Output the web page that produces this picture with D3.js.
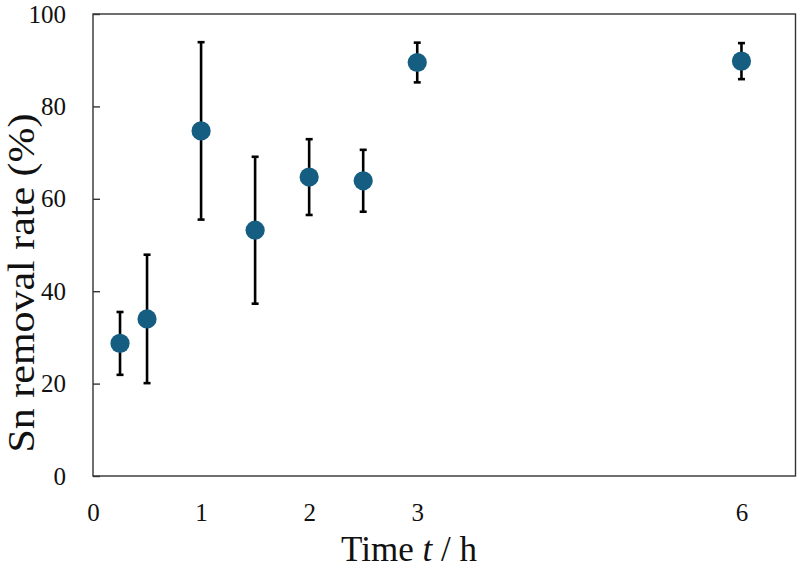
<!DOCTYPE html>
<html>
<head>
<meta charset="utf-8">
<script src="https://cdn.jsdelivr.net/npm/d3@7"></script>
<style>
  body { margin: 0; background: #fff; }
  svg text { font-family: "Liberation Serif", "DejaVu Serif", serif; fill: #111; }
</style>
</head>
<body>
<div id="chart"></div>
<script>
// data
const times = [0.25, 0.5, 1, 1.5, 2, 2.5, 3, 6];
const rates = [28.7, 34.0, 74.7, 53.2, 64.7, 63.9, 89.5, 89.8];
const errors = [6.8, 13.9, 19.2, 15.9, 8.2, 6.7, 4.3, 3.9];
const xTicks = [0, 1, 2, 3, 6];
const yTicks = [0, 20, 40, 60, 80, 100];

const width = 800, height = 571;
const margin = {top: 14, right: 4.5, bottom: 95, left: 93};
const serif = "Liberation Serif";

const svg = d3.select("#chart").append("svg")
    .attr("width", width)
    .attr("height", height);

const x = d3.scaleLinear()
    .domain([0, 6.5])
    .range([margin.left, width - margin.right]);

const y = d3.scaleLinear()
    .domain([0, 100])
    .range([height - margin.bottom, margin.top]);

// frame
svg.append("rect")
    .attr("x", x(0))
    .attr("y", y(100))
    .attr("width", x(6.5) - x(0))
    .attr("height", y(0) - y(100))
    .attr("fill", "none")
    .attr("stroke", "#333")
    .attr("stroke-width", 1.4);

// y axis: inward ticks
const yAxis = d3.axisLeft(y)
    .tickValues(yTicks)
    .tickFormat(d3.format("d"))
    .tickSizeInner(-7)
    .tickSizeOuter(0)
    .tickPadding(27);

const gy = svg.append("g")
    .attr("transform", `translate(${x(0)},0)`)
    .call(yAxis)
    .attr("font-family", serif)
    .attr("font-size", 25);
gy.select(".domain").remove();
gy.selectAll(".tick line").attr("stroke", "#333").attr("stroke-width", 1.4);
gy.selectAll(".tick text").attr("fill", "#111");

// x axis: labels only
const xAxis = d3.axisBottom(x)
    .tickValues(xTicks)
    .tickFormat(d3.format("d"))
    .tickSize(0)
    .tickPadding(27);

const gx = svg.append("g")
    .attr("transform", `translate(0,${y(0)})`)
    .call(xAxis)
    .attr("font-family", serif)
    .attr("font-size", 25);
gx.select(".domain").remove();
gx.selectAll(".tick text").attr("fill", "#111");

// error bars
const pts = times.map((t, i) => ({t, v: rates[i], e: errors[i]}));
const capW = 3.5;

const eb = svg.append("g")
    .attr("stroke", "#000")
    .attr("stroke-width", 2.6);

eb.selectAll("line.bar")
    .data(pts)
    .enter().append("line")
    .attr("x1", d => x(d.t)).attr("x2", d => x(d.t))
    .attr("y1", d => y(d.v - d.e)).attr("y2", d => y(d.v + d.e));

eb.selectAll("line.top")
    .data(pts)
    .enter().append("line")
    .attr("x1", d => x(d.t) - capW).attr("x2", d => x(d.t) + capW)
    .attr("y1", d => y(d.v + d.e)).attr("y2", d => y(d.v + d.e));

eb.selectAll("line.bot")
    .data(pts)
    .enter().append("line")
    .attr("x1", d => x(d.t) - capW).attr("x2", d => x(d.t) + capW)
    .attr("y1", d => y(d.v - d.e)).attr("y2", d => y(d.v - d.e));

// markers
svg.selectAll("circle")
    .data(pts)
    .enter().append("circle")
    .attr("cx", d => x(d.t))
    .attr("cy", d => y(d.v))
    .attr("r", 9.6)
    .attr("fill", "#155e81");

// axis titles
svg.append("text")
    .attr("x", 409)
    .attr("y", 561)
    .attr("text-anchor", "middle")
    .style("font-size", "35px")
    .html('Time <tspan font-style="italic">t</tspan> / h');

svg.append("text")
    .attr("transform", "translate(34,283) rotate(-90)")
    .attr("text-anchor", "middle")
    .attr("textLength", 339)
    .attr("lengthAdjust", "spacingAndGlyphs")
    .style("font-size", "37px")
    .text("Sn removal rate (%)");
</script>
</body>
</html>
